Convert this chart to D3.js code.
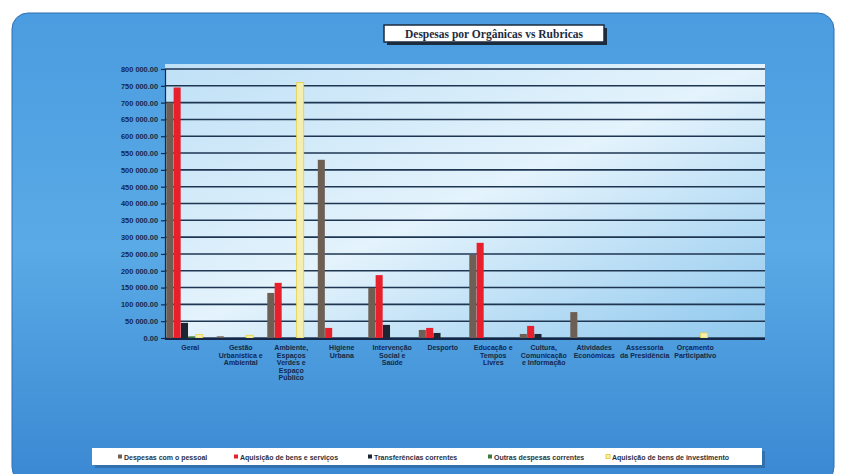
<!DOCTYPE html>
<html><head><meta charset="utf-8">
<script src="https://cdn.jsdelivr.net/npm/d3@7"></script>
<style>body{margin:0;background:#fff}svg{display:block;font-family:"Liberation Sans",Arial,sans-serif}</style>
</head><body>
<svg id="c" width="843" height="474"></svg>
<script>
const categories = ["Geral","Gestão Urbanística e Ambiental","Ambiente, Espaços Verdes e Espaço Público","Higiene Urbana","Intervenção Social e Saúde","Desporto","Educação e Tempos Livres","Cultura, Comunicação e Informação","Atividades Económicas","Assessoria da Presidência","Orçamento Participativo"];
const labelLines = [["Geral"],["Gestão","Urbanística e","Ambiental"],["Ambiente,","Espaços","Verdes e","Espaço","Público"],["Higiene","Urbana"],["Intervenção","Social e","Saúde"],["Desporto"],["Educação e","Tempos","Livres"],["Cultura,","Comunicação","e Informação"],["Atividades","Económicas"],["Assessoria","da Presidência"],["Orçamento","Participativo"]];
const seriesNames = ["Despesas com o pessoal","Aquisição de bens e serviços","Transferências correntes","Outras despesas correntes","Aquisição de bens de investimento"];
const pessoal      = [700000, 5000, 134000, 530000, 149000, 24000, 247000, 12000, 77000, 0, 0];
const aquisicao    = [745000, 0, 164000, 30000, 187000, 30000, 283000, 36000, 0, 0, 0];
const transferencias = [45000, 0, 0, 0, 39000, 15000, 0, 12000, 0, 0, 0];
const outras       = [5000, 0, 0, 0, 0, 0, 0, 0, 0, 0, 0];
const investimento = [10000, 8000, 760000, 0, 0, 0, 0, 0, 0, 0, 15000];
const yTicks = [0,50000,100000,150000,200000,250000,300000,350000,400000,450000,500000,550000,600000,650000,700000,750000,800000];
const colors = ["#6e5f55","#e8202c","#1d2532","#3f7a3a","#f4eeb0"];
const series = [pessoal, aquisicao, transferencias, outras, investimento];

const svg = d3.select("#c");
const defs = svg.append("defs");
const g1 = defs.append("linearGradient").attr("id","bg").attr("x1",0).attr("y1",0).attr("x2",0).attr("y2",1);
g1.append("stop").attr("offset","0").attr("stop-color","#4b9ce0");
g1.append("stop").attr("offset","0.5").attr("stop-color","#5aaae6");
g1.append("stop").attr("offset","1").attr("stop-color","#3a88d2");
const g2 = defs.append("linearGradient").attr("id","pa").attr("x1",0).attr("y1",0).attr("x2",1).attr("y2",1);
g2.append("stop").attr("offset","0").attr("stop-color","#bfe0f6");
g2.append("stop").attr("offset","0.5").attr("stop-color","#e4f3fc");
g2.append("stop").attr("offset","1").attr("stop-color","#8fc8ee");

svg.append("rect").attr("x",12).attr("y",13).attr("width",822).attr("height",470).attr("rx",16).attr("fill","url(#bg)").attr("stroke","#2f6fb0").attr("stroke-width",1);

const x0 = 165, plotRight = 765;
const x = d3.scaleBand().domain(categories).range([x0, x0 + 50.5*categories.length]).paddingInner(0).paddingOuter(0);
const xs = d3.scaleBand().domain(d3.range(5)).range([1, 38]).padding(0.04);
const y = d3.scaleLinear().domain([0,800000]).range([338,69]);

svg.append("rect").attr("x",x0).attr("y",64).attr("width",plotRight-x0).attr("height",338-64).attr("fill","url(#pa)");

// grid
svg.append("g").selectAll("line").data(yTicks).join("line")
  .attr("x1",x0).attr("x2",plotRight).attr("y1",d=>y(d)).attr("y2",d=>y(d))
  .attr("stroke","#1e3652").attr("stroke-width",1.6);

// bars
const grp = svg.append("g").selectAll("g").data(categories).join("g").attr("transform",d=>`translate(${x(d)},0)`);
grp.selectAll("rect").data((d,i)=>series.map((s,k)=>({k,v:s[i]}))).join("rect")
  .filter(d=>d.v>0)
  .attr("x",d=>xs(d.k)).attr("width",xs.bandwidth())
  .attr("y",d=>y(d.v)).attr("height",d=>y(0)-y(d.v))
  .attr("fill",d=>colors[d.k]).attr("stroke",d=>d.k===4?"#e8d040":"none").attr("stroke-width",0.8);

// axes
const ya = d3.axisLeft(y).tickValues(yTicks).tickSize(4)
  .tickFormat(d=>d===0?"0.00":d3.format(",.2f")(d).replace(/,/g," "));
const yg = svg.append("g").attr("transform",`translate(${x0},0)`).call(ya);
yg.selectAll("text").attr("font-size",7.4).attr("font-weight","bold").attr("fill","#13284a");
yg.selectAll("line,path").attr("stroke","#13284a").attr("stroke-width",1.2);
svg.append("line").attr("x1",x0).attr("x2",plotRight).attr("y1",y(0)+1).attr("y2",y(0)+1).attr("stroke","#13284a").attr("stroke-width",2);

// x labels
const xl = svg.append("g");
categories.forEach((c,i)=>{
  const t = xl.append("text").attr("x",x(c)+x.bandwidth()/2).attr("y",350)
    .attr("text-anchor","middle").attr("font-size",7).attr("font-weight","bold").attr("fill","#13284a");
  labelLines[i].forEach((l,j)=>t.append("tspan").attr("x",x(c)+x.bandwidth()/2).attr("dy",j===0?0:7.6).text(l));
});

// title
svg.append("rect").attr("x",387).attr("y",28).attr("width",220).attr("height",17).attr("fill","#1d2b3e");
svg.append("rect").attr("x",384).attr("y",25).attr("width",220).attr("height",17).attr("fill","#fff").attr("stroke","#1d2b3e").attr("stroke-width",1.5);
svg.append("text").attr("x",494).attr("y",37.5).attr("text-anchor","middle").attr("font-size",11.5).attr("font-weight","bold").attr("fill","#1d2b3e")
  .attr("font-family","'Liberation Serif',serif").text("Despesas por Orgânicas vs Rubricas");

// legend
svg.append("rect").attr("x",95).attr("y",451).attr("width",670).attr("height",17).attr("fill","#2a5f95").attr("opacity",0.6);
svg.append("rect").attr("x",92).attr("y",448).attr("width",670).attr("height",17).attr("fill","#fff");
const lx = [118, 234, 368, 488, 606];
const lg = svg.append("g").selectAll("g").data(seriesNames).join("g").attr("transform",(d,i)=>`translate(${lx[i]},457)`);
lg.append("rect").attr("x",0).attr("y",-2.5).attr("width",4).attr("height",4).attr("fill",(d,i)=>colors[i]).attr("stroke",(d,i)=>i===4?"#e8d040":"none");
lg.append("text").attr("x",6).attr("y",2.5).attr("font-size",7).attr("font-weight","bold").attr("fill","#2a3140").text(d=>d);
</script>
</body></html>
